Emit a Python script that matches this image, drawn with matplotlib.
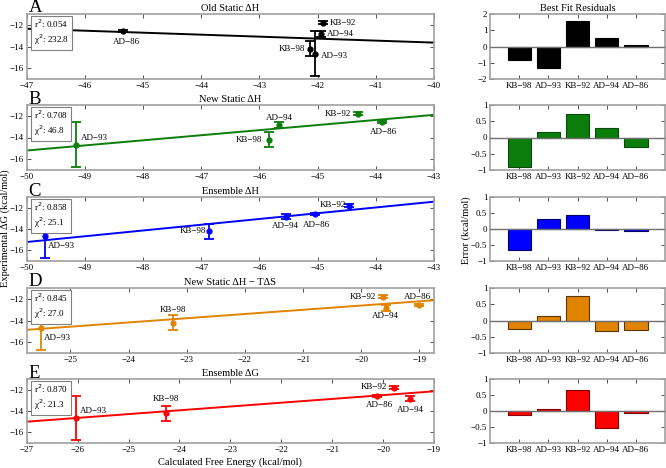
import matplotlib
matplotlib.use("Agg")
import matplotlib.pyplot as plt
import numpy as np

plt.rcParams['font.family'] = ['Liberation Serif', 'DejaVu Serif']
plt.rcParams['axes.unicode_minus'] = True

names = ['KB−98', 'AD−93', 'KB−92', 'AD−94', 'AD−86']
exp_dg = [-14.2, -14.65, -11.8, -12.85, -12.6]
exp_err = [0.7, 2.05, 0.15, 0.25, 0.1]

titles = ['Old Static ΔH', 'New Static ΔH', 'Ensemble ΔH', 'New Static ΔH − TΔS', 'Ensemble ΔG']
letters = ['A', 'B', 'C', 'D', 'E']
colors = ['#000000', '#0a7d0a', '#0000ff', '#e08400', '#ff0000']
bar_edges = ['#000000', '#0a4a0a', '#000066', '#5a3500', '#800000']

calc_A = [-42.13, -42.04, -41.9, -41.95, -45.34]
calc_B = [-45.84, -49.16, -44.31, -45.66, -43.9]
calc_C = [-46.87, -49.69, -44.46, -45.55, -45.04]
calc_D = [-23.24, -25.51, -19.63, -19.58, -19.0]
calc_E = [-24.27, -26.03, -19.79, -19.48, -20.12]
calc_all = [calc_A, calc_B, calc_C, calc_D, calc_E]

fit_slope = [-0.183, 0.47, 0.54, 0.39, 0.356]
fit_intercept = [-20.96, 8.3, 11.78, -4.82, -5.39]

r2 = ['0.054', '0.708', '0.858', '0.845', '0.870']
chi2 = ['232.8', '46.8', '25.1', '27.0', '21.3']

xlims = [(-47, -40), (-50, -43), (-50, -43), (-25.75, -18.75), (-27, -19)]
xticks = [np.arange(-47, -39), np.arange(-50, -42), np.arange(-50, -42),
          np.arange(-25, -18), np.arange(-27, -18)]

resid_A = [-0.85, -1.3, 1.57, 0.5, 0.12]
resid_B = [-0.92, 0.18, 0.72, 0.30, -0.30]
resid_C = [-0.67, 0.32, 0.45, -0.04, -0.07]
resid_D = [-0.26, 0.13, 0.76, -0.32, -0.29]
resid_E = [-0.12, 0.06, 0.65, -0.53, -0.05]
resid_all = [resid_A, resid_B, resid_C, resid_D, resid_E]

# label placement (offset pixels, ha)
label_pos = [
    [(-5, 0, 'right'), (6, -2, 'left'), (6, 0, 'left'), (6, 0, 'left'), (3, -11, 'center')],
    [(-7, 0, 'right'), (5, 7, 'left'), (-7, 0, 'right'), (0, 7, 'center'), (2, -10, 'center')],
    [(-3, 0, 'right'), (3, -10, 'left'), (-3, 1, 'right'), (0, -9, 'center'), (1, -11, 'center')],
    [(0, 13, 'center'), (3, -10, 'left'), (-7, 0, 'right'), (0, -8, 'center'), (-2, 8, 'center')],
    [(0, 14, 'center'), (4, 7, 'left'), (-7, 1, 'right'), (1, -11, 'center'), (2, -9, 'center')],
]

W, H = 666, 468
fig = plt.figure(figsize=(W / 100, H / 100), dpi=100)

tops = [14, 105, 197, 288, 379]
bots = [79, 170, 261, 353, 443]
lx0, lx1 = 26.7, 434
rx0, rx1 = 490, 665
spine_col = '#a0a0a0'
fs_tick = 6.5


def style(ax):
    for s in ax.spines.values():
        s.set_color(spine_col)
        s.set_linewidth(1.2)
    ax.tick_params(direction='in', length=3, width=0.6, labelsize=fs_tick,
                   top=True, right=True, color='#333333', pad=2)


for i in range(5):
    b = 1 - bots[i] / H
    h = (bots[i] - tops[i]) / H
    ax = fig.add_axes([lx0 / W, b, (lx1 - lx0) / W, h])
    style(ax)
    c = colors[i]
    xs = np.array(xlims[i])
    ax.plot(xs, fit_slope[i] * xs + fit_intercept[i], color=c, lw=1.4, zorder=2)
    ax.errorbar(calc_all[i], exp_dg, yerr=exp_err, fmt='o', color=c, ms=3.5,
                capsize=3.5, elinewidth=1.3, capthick=1.3, zorder=3)
    for j, nm in enumerate(names):
        dx, dy, ha = label_pos[i][j]
        ax.annotate(nm, (calc_all[i][j], exp_dg[j]), xytext=(dx, dy),
                    textcoords='offset pixels', ha=ha, va='center', fontsize=6.5)
    ax.set_xlim(*xlims[i])
    ax.set_ylim(-17, -11)
    ax.set_xticks(xticks[i])
    ax.set_yticks([-16, -14, -12])
    ax.set_title(titles[i], fontsize=7.5, pad=2)
    ax.text(0.018, 0.95, f'r$^2$: {r2[i]}\nχ$^2$: {chi2[i]}', transform=ax.transAxes,
            va='top', ha='left', fontsize=6.5, linespacing=1.3,
            bbox=dict(boxstyle='square,pad=0.35', fc='white', ec='#808080', lw=0.8))
    fig.text((lx0 + 2) / W, 1 - (tops[i] - 1.5) / H, letters[i], fontsize=13.5,
             ha='left', va='baseline')

    axr = fig.add_axes([rx0 / W, b, (rx1 - rx0) / W, h])
    style(axr)
    pos = np.arange(1, 6)
    axr.bar(pos, resid_all[i], width=0.8, color=c, edgecolor=bar_edges[i], lw=0.8, zorder=2)
    axr.axhline(0, color='#707070', lw=1.0, zorder=3)
    axr.set_xlim(0, 6)
    axr.set_xticks(pos)
    axr.set_xticklabels(names)
    if i == 0:
        axr.set_ylim(-2, 2)
        axr.set_yticks([-2, -1, 0, 1, 2])
        axr.set_title('Best Fit Residuals', fontsize=7.5, pad=2)
    else:
        axr.set_ylim(-1, 1)
        axr.set_yticks([-1, -0.5, 0, 0.5, 1])
        axr.set_yticklabels(['−1', '−0.5', '0', '0.5', '1'])

fig.text(5 / W, 1 - 228 / H, 'Experimental ΔG (kcal/mol)', rotation=90,
         ha='center', va='center', fontsize=7.5)
fig.text(230 / W, 1 - 462 / H, 'Calculated Free Energy (kcal/mol)',
         ha='center', va='center', fontsize=7.5)
fig.text(466 / W, 1 - 230 / H, 'Error (kcal/mol)', rotation=90,
         ha='center', va='center', fontsize=7.5)

fig.savefig('out.png', dpi=100)
